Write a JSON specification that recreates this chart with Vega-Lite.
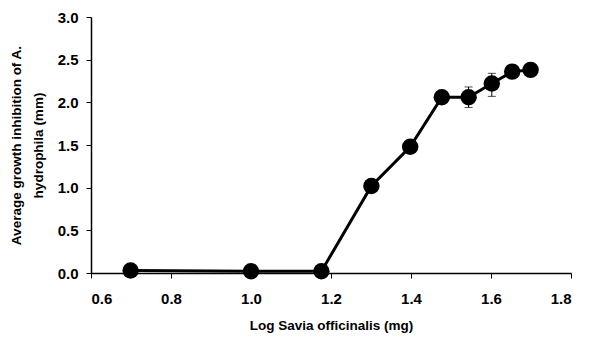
{
  "$schema": "https://vega.github.io/schema/vega-lite/v6.json",
  "autosize": "none",
  "width": 480,
  "height": 256,
  "padding": {"left": 91, "top": 17, "right": 33, "bottom": 67},
  "background": "white",
  "config": {
    "view": {"stroke": null},
    "font": "Liberation Sans",
    "axis": {
      "grid": false,
      "domainColor": "black",
      "domainWidth": 1.5,
      "tickColor": "black",
      "tickWidth": 1,
      "tickSize": 5,
      "labelFont": "Liberation Sans",
      "labelFontWeight": "bold",
      "labelFontSize": 15,
      "labelColor": "black",
      "titleFont": "Liberation Sans",
      "titleFontWeight": "bold",
      "titleFontSize": 13.5,
      "titleColor": "black"
    }
  },
  "data": {
    "values": [
      {"x": 0.699, "y": 0.03, "lo": 0.01, "hi": 0.05},
      {"x": 1.0, "y": 0.02, "lo": 0.01, "hi": 0.03},
      {"x": 1.176, "y": 0.02, "lo": 0.01, "hi": 0.03},
      {"x": 1.301, "y": 1.02, "lo": 1.0, "hi": 1.04},
      {"x": 1.398, "y": 1.48, "lo": 1.46, "hi": 1.5},
      {"x": 1.477, "y": 2.06, "lo": 2.03, "hi": 2.09},
      {"x": 1.544, "y": 2.06, "lo": 1.94, "hi": 2.18},
      {"x": 1.602, "y": 2.22, "lo": 2.07, "hi": 2.34},
      {"x": 1.653, "y": 2.36, "lo": 2.33, "hi": 2.39},
      {"x": 1.699, "y": 2.38, "lo": 2.35, "hi": 2.41}
    ]
  },
  "encoding": {
    "x": {
      "field": "x", "type": "quantitative",
      "scale": {"domain": [0.6, 1.8], "nice": false, "zero": false},
      "axis": {"values": [0.6, 0.8, 1.0, 1.2, 1.4, 1.6, 1.8], "format": ".1f", "labelPadding": 13, "title": "Log Savia officinalis (mg)", "titlePadding": 12}
    }
  },
  "layer": [
    {
      "mark": {"type": "rule", "color": "black", "strokeWidth": 1},
      "encoding": {
        "y": {"field": "lo", "type": "quantitative"},
        "y2": {"field": "hi"}
      }
    },
    {
      "mark": {"type": "tick", "color": "black", "orient": "horizontal", "size": 8, "thickness": 1},
      "encoding": {"y": {"field": "lo", "type": "quantitative"}}
    },
    {
      "mark": {"type": "tick", "color": "black", "orient": "horizontal", "size": 8, "thickness": 1},
      "encoding": {"y": {"field": "hi", "type": "quantitative"}}
    },
    {
      "mark": {"type": "line", "color": "black", "strokeWidth": 3},
      "encoding": {
        "y": {
          "field": "y", "type": "quantitative",
          "scale": {"domain": [0, 3], "nice": false},
          "axis": {"values": [0, 0.5, 1, 1.5, 2, 2.5, 3], "format": ".1f", "labelPadding": 8,
                   "title": ["Average growth inhibition of  A.", "hydrophila (mm)"], "titlePadding": 12, "titleLineHeight": 22, "titleY": 128}
        }
      }
    },
    {
      "mark": {"type": "point", "filled": true, "color": "black", "opacity": 1, "size": 270},
      "encoding": {"y": {"field": "y", "type": "quantitative"}}
    }
  ]
}
